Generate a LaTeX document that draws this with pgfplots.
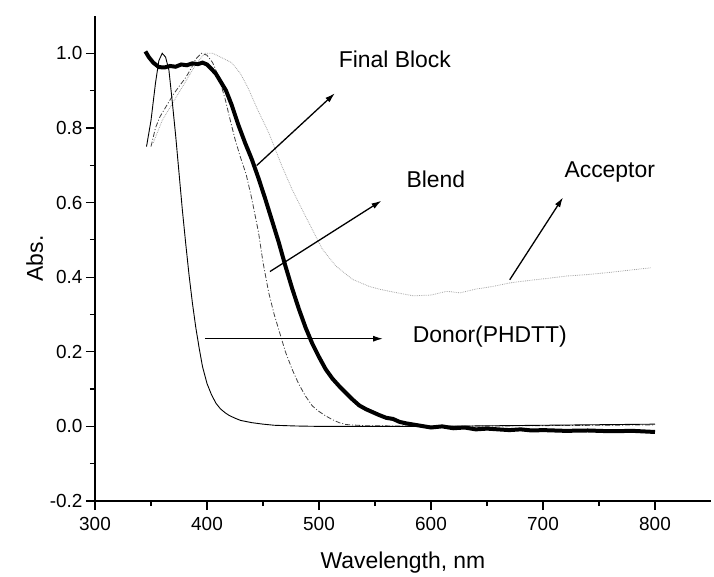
\documentclass[border=0pt]{standalone}
\usepackage{fontspec}
\setmainfont{Liberation Sans}
\usepackage{pgfplots}
\pgfplotsset{compat=1.18}
\usetikzlibrary{arrows.meta}
\begin{document}
\begin{tikzpicture}
\begin{axis}[
  scale only axis,
  width=616bp, height=485bp,
  xmin=300, xmax=850, ymin=-0.2, ymax=1.1,
  axis x line*=bottom, axis y line*=left,
  axis line style={line width=1.6bp, -},
  tick align=outside,
  major tick length=9bp, minor tick length=5bp,
  every tick/.style={line width=1.2bp, black},
  xtick={300,400,...,800}, minor x tick num=1,
  ytick={-0.2,0,0.2,0.4,0.6,0.8,1.0}, minor y tick num=1,
  yticklabel style={/pgf/number format/.cd, fixed, fixed zerofill, precision=1},
  /pgf/number format/assume math mode=true,
  ticklabel style={font=\fontsize{19}{21}\selectfont},
  xticklabel style={yshift=-4bp},
  label style={font=\fontsize{23}{26}\selectfont},
  xlabel={Wavelength, nm},
  ylabel={Abs.},
  xlabel style={yshift=-14bp},
  clip=false,
]
% Acceptor (dotted gray)
\addplot[gray!70, line width=0.8bp, densely dotted] coordinates {
(352,0.76) (360,0.82) (370,0.87) (380,0.92) (390,0.97) (398,1.0) (405,1.0)
(412,0.99) (422,0.975) (430,0.945) (437,0.905) (445,0.85) (455,0.788)
(467,0.697) (476,0.635) (488,0.563) (503,0.475) (515,0.43) (530,0.394)
(545,0.375) (555,0.367) (570,0.358) (584,0.350) (600,0.352) (614,0.362)
(626,0.358) (640,0.368) (655,0.375) (671,0.385) (690,0.392) (705,0.397)
(721,0.403) (740,0.407) (757,0.412) (775,0.418) (796,0.425)
};
% Blend (dash-dot)
\addplot[black!75, line width=0.8bp, dash pattern=on 5bp off 2bp on 1bp off 2bp] coordinates {
(350,0.75) (354,0.80) (358,0.83) (364,0.86) (370,0.89) (376,0.915) (381,0.935)
(386,0.96) (390,0.985) (395,1.0) (400,0.995) (405,0.975) (410,0.94) (416,0.88)
(420,0.83) (425,0.77) (430,0.72) (435,0.675) (440,0.61) (446,0.52) (450,0.44)
(455,0.36) (460,0.30) (465,0.25) (470,0.20) (476,0.153) (482,0.113) (488,0.081)
(494,0.055) (500,0.040) (506,0.028) (512,0.018) (518,0.010) (524,0.005)
(540,0.002) (600,0.0) (700,0.002) (800,0.004)
};
% Donor (thin solid)
\addplot[black, line width=0.9bp] coordinates {
(346,0.75) (350,0.82) (354,0.92) (357,0.98) (360,1.0) (363,0.99) (366,0.955)
(369,0.87) (372,0.78) (375,0.68) (378,0.58) (381,0.49) (384,0.405) (387,0.33)
(390,0.265) (393,0.21) (396,0.16) (400,0.115) (404,0.085) (408,0.062)
(412,0.047) (416,0.037) (420,0.029) (425,0.022) (430,0.016) (440,0.010)
(450,0.006) (460,0.003) (480,0.001) (500,0.0) (600,0.0) (700,0.003) (800,0.006)
};
% Final Block (thick)
\addplot[black, line width=4bp] coordinates {
(345,1.005) (348,0.99) (352,0.975) (357,0.963) (362,0.962) (367,0.966)
(372,0.964) (377,0.970) (382,0.968) (387,0.973) (392,0.971) (396,0.975)
(400,0.970) (404,0.958) (408,0.945) (412,0.925) (417,0.900) (422,0.862)
(428,0.808) (434,0.760) (440,0.716) (446,0.665) (452,0.610) (458,0.552)
(464,0.494) (470,0.430) (476,0.370) (482,0.315) (488,0.265) (494,0.222)
(500,0.186) (506,0.153) (512,0.128) (518,0.108) (524,0.090) (530,0.072)
(536,0.056) (542,0.046) (548,0.038) (554,0.030) (560,0.023) (566,0.020)
(572,0.012) (578,0.008) (584,0.005) (590,0.002) (600,-0.003) (610,0.000)
(620,-0.005) (630,-0.003) (640,-0.008) (650,-0.006) (660,-0.008) (670,-0.010)
(680,-0.008) (690,-0.011) (700,-0.010) (720,-0.012) (740,-0.011) (760,-0.013)
(780,-0.012) (800,-0.015)
};
% annotations
\begin{scope}[line width=1.3bp, -{Latex[length=10bp,width=6bp]}]
\draw (axis cs:444.3,0.699) -- (axis cs:514.2,0.893);
\draw (axis cs:456.2,0.415) -- (axis cs:555.8,0.605);
\draw (axis cs:670.3,0.393) -- (axis cs:717.9,0.614);
\draw (axis cs:398.2,0.235) -- (axis cs:557.2,0.235);
\end{scope}
\begin{scope}[font=\fontsize{23}{26}\selectfont]
\node at (axis cs:567.7,0.984) {Final Block};
\node at (axis cs:604.3,0.662) {Blend};
\node at (axis cs:759.6,0.681) {Acceptor};
\node at (axis cs:652.5,0.241) {Donor(PHDTT)};
\end{scope}
\coordinate (O) at (axis cs:300,-0.2);
\end{axis}
\pgfresetboundingbox
\path ([shift={(-95bp,-76bp)}]O) rectangle ([shift={(619bp,501bp)}]O);
\end{tikzpicture}
\end{document}
